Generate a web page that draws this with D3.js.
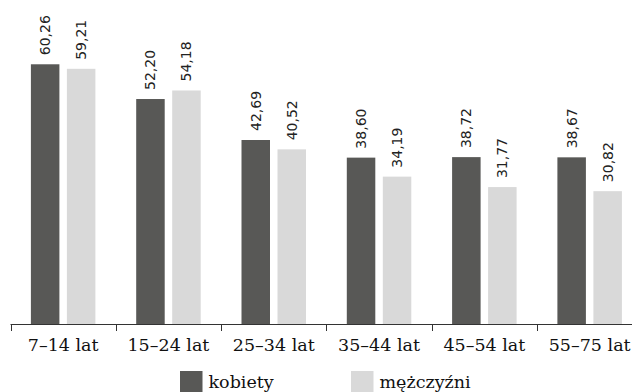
<!DOCTYPE html>
<html><head><meta charset="utf-8">
<script src="https://cdn.jsdelivr.net/npm/d3@7"></script>
<style>body{margin:0;background:#fff}svg{display:block}</style>
</head><body>
<svg id="c" width="632" height="392"></svg>
<script>
const categories = ["7–14 lat","15–24 lat","25–34 lat","35–44 lat","45–54 lat","55–75 lat"];
const kobiety = [60.26, 52.20, 42.69, 38.60, 38.72, 38.67];
const mezczyzni = [59.21, 54.18, 40.52, 34.19, 31.77, 30.82];
const seriesNames = ["kobiety","mężczyźni"];
const colors = ["#585856","#d9d9d9"];
const fmt = v => v.toFixed(2).replace(".", ",");

const svg = d3.select("#c");
const x0 = 10.5, bandW = 105.3;
const x = d3.scaleBand().domain(categories).range([x0, x0 + bandW*categories.length]).padding(0);
const y = d3.scaleLinear().domain([0, 70]).range([324, 324 - 70*4.31]);
const series = [kobiety, mezczyzni];
const off = [-18, 18], bw = 28.5;

series.forEach((vals, si) => {
  svg.append("g").selectAll("rect").data(vals).join("rect")
    .attr("x", (d,i) => x(categories[i]) + x.bandwidth()/2 + off[si] - bw/2)
    .attr("y", d => y(d))
    .attr("width", bw)
    .attr("height", d => y(0) - y(d))
    .attr("fill", colors[si]);
  svg.append("g").selectAll("text").data(vals).join("text")
    .attr("transform", (d,i) => `translate(${x(categories[i]) + x.bandwidth()/2 + off[si]},${y(d) - 9}) rotate(-90)`)
    .attr("dy", "0.35em")
    .attr("text-anchor", "start")
    .attr("font-family", "DejaVu Sans")
    .attr("font-size", 14)
    .attr("fill", "#222")
    .text(d => fmt(d));
});

// axis
const ax = svg.append("g");
ax.append("line").attr("x1", x0).attr("x2", 632).attr("y1", 324.5).attr("y2", 324.5)
  .attr("stroke", "#333").attr("stroke-width", 1);
ax.selectAll("line.t").data(categories).join("line").attr("class","t")
  .attr("x1", d => Math.round(x(d)) + 0.5).attr("x2", d => Math.round(x(d)) + 0.5)
  .attr("y1", 324).attr("y2", 331).attr("stroke", "#333");
ax.selectAll("text").data(categories).join("text")
  .attr("x", d => x(d) + x.bandwidth()/2)
  .attr("y", 351)
  .attr("text-anchor", "middle")
  .attr("font-family", "DejaVu Serif")
  .attr("font-size", 17.5)
  .attr("fill", "#111")
  .text(d => d);

// legend
const legX = [180, 351];
const lg = svg.append("g");
seriesNames.forEach((n, i) => {
  lg.append("rect").attr("x", legX[i]).attr("y", 371).attr("width", 22.5).attr("height", 22).attr("fill", colors[i]);
  lg.append("text").attr("x", legX[i] + 28.5).attr("y", 388)
    .attr("font-family", "DejaVu Serif").attr("font-size", 17.5).attr("fill", "#111").text(n);
});
</script>
</body></html>
